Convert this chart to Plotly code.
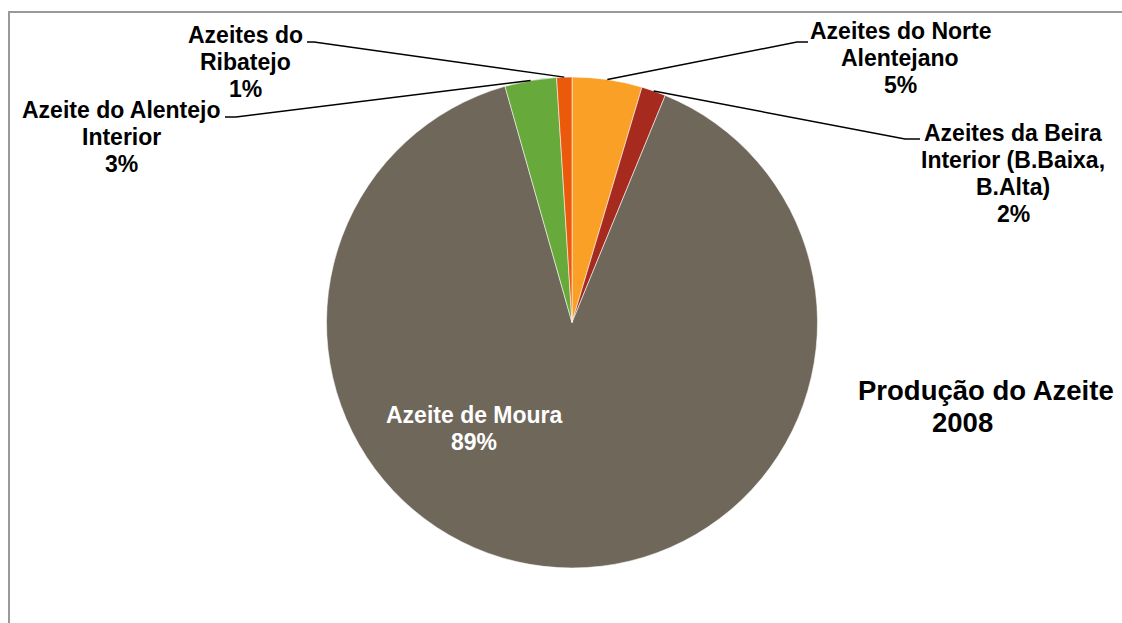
import math
import plotly.graph_objects as go

# ---- data ----
labels = ["Azeites do Norte<br>Alentejano",
          "Azeites da Beira<br>Interior (B.Baixa,<br>B.Alta)",
          "Azeite de Moura",
          "Azeite do Alentejo<br>Interior",
          "Azeites do<br>Ribatejo"]
values = [4.6, 1.6, 89.4, 3.4, 1.0]
colors = ["#FAA027", "#A72A1F", "#6F675A", "#67A93B", "#EB5A0A"]
title_lines = ["Produção do Azeite", "2008"]

W, H = 1122, 623
CX, CY, R = 572.0, 322.5, 245.5
FONT = "Liberation Sans, Arial, sans-serif"


def px(x):
    return x / W


def py(y):
    return 1 - y / H


fig = go.Figure(go.Pie(
    labels=labels, values=values, sort=False, direction="clockwise", rotation=0,
    marker=dict(colors=colors, line=dict(color="rgba(255,255,255,0.55)", width=1)),
    textinfo="none", hoverinfo="label+percent", showlegend=False,
    domain=dict(x=[px(CX - R), px(CX + R)], y=[py(CY + R), py(CY - R)]),
))

total = sum(values)
pcts = [f"{round(v / total * 100)}%" for v in values]

# label placement (center x of text, center y of first line, leader start points)
layout_spec = {
    0: dict(cx=900, y0=31, color="black", lead=[(808, 42), (797, 42)]),
    1: dict(cx=1013, y0=132.5, color="black", lead=[(920, 139), (905, 139)]),
    2: dict(cx=474, y0=415, color="white", lead=None),
    3: dict(cx=121, y0=110, color="black", lead=[(225, 117), (236, 117)]),
    4: dict(cx=245, y0=35.5, color="black", lead=[(307, 42), (314, 42)]),
}
LS = 27

annotations = []
shapes = []
cum = 0.0
for i, (lab, v) in enumerate(zip(labels, values)):
    mid = (cum + v / 2) / total * 2 * math.pi
    cum += v
    spec = layout_spec[i]
    lines = lab.split("<br>") + [pcts[i]]
    for k, t in enumerate(lines):
        annotations.append(dict(
            x=px(spec["cx"]), y=py(spec["y0"] + k * LS), xref="paper", yref="paper",
            text=f"<b>{t}</b>", showarrow=False, xanchor="center", yanchor="middle",
            font=dict(family=FONT, size=23, color=spec["color"]),
        ))
    if spec["lead"]:
        tx = CX + R * math.sin(mid)
        ty = CY - R * math.cos(mid)
        pts = spec["lead"] + [(tx, ty)]
        path = "M " + " L ".join(f"{px(a):.5f},{py(b):.5f}" for a, b in pts)
        shapes.append(dict(type="path", path=path, xref="paper", yref="paper",
                           line=dict(color="black", width=1.5)))

# chart title
annotations.append(dict(x=px(986), y=py(390), xref="paper", yref="paper",
                        text=f"<b>{title_lines[0]}</b>", showarrow=False,
                        xanchor="center", yanchor="middle",
                        font=dict(family=FONT, size=27.5, color="black")))
annotations.append(dict(x=px(962), y=py(422.5), xref="paper", yref="paper",
                        text=f"<b>{title_lines[1]}</b>", showarrow=False,
                        xanchor="center", yanchor="middle",
                        font=dict(family=FONT, size=27.5, color="black")))

# chart frame
shapes.append(dict(type="rect", xref="paper", yref="paper",
                   x0=px(9), y0=-0.02, x1=1.02, y1=py(12),
                   line=dict(color="#999999", width=2), fillcolor="rgba(0,0,0,0)"))

fig.update_layout(
    width=W, height=H, margin=dict(l=0, r=0, t=0, b=0),
    paper_bgcolor="white", plot_bgcolor="white",
    annotations=annotations, shapes=shapes,
)

fig.write_html("out.html", config={"displayModeBar": False},
               post_script="document.body.style.margin='0';document.body.style.padding='0';")
